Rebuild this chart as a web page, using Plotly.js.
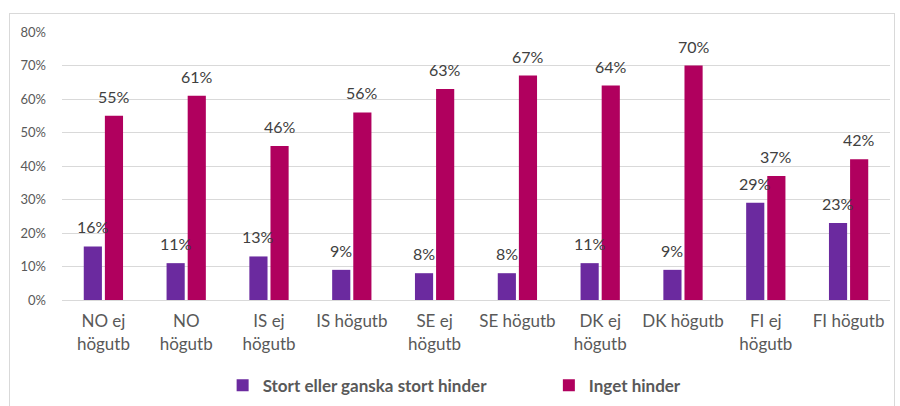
<!DOCTYPE html>
<html><head><meta charset="utf-8">
<script src="https://cdn.plot.ly/plotly-3.0.1.min.js"></script>
<style>
html,body{margin:0;padding:0;background:#fff;overflow:hidden;width:900px;height:406px;}
#wrap{position:absolute;left:9px;top:13px;width:884px;height:400px;border:1px solid #d9d9d9;}
#chart{width:884px;height:400px;}
</style></head>
<body><div id="wrap"><div id="chart"></div></div>
<script>
const categories = ["NO ej<br>högutb","NO<br>högutb","IS ej<br>högutb","IS högutb","SE ej<br>högutb","SE högutb","DK ej<br>högutb","DK högutb","FI ej<br>högutb","FI högutb"];
const seriesNames = ["Stort eller ganska stort hinder","Inget hinder"];
const stortHinder = [16,11,13,9,8,8,11,9,29,23];
const ingetHinder = [55,61,46,56,63,67,64,70,37,42];
const colors = ["#6B2A9F","#B0005E"];

const font = "Lato, 'Open Sans', sans-serif";
function mk(name, vals, color, leg){
  return {type:'bar', name:name, x:categories, y:vals, legend:leg,
    marker:{color:color}, hoverinfo:'skip'};
}
const data=[mk(seriesNames[0],stortHinder,colors[0],'legend'), mk(seriesNames[1],ingetHinder,colors[1],'legend2')];
// data labels, placed at each bar's value through the axes
const annotations=[];
[[stortHinder,-10.6],[ingetHinder,10.6]].forEach(([vals,dx])=>{
  vals.forEach((v,i)=>annotations.push({x:categories[i],y:v,xref:'x',yref:'y',text:v+'%',showarrow:false,
    xanchor:'center',yanchor:'bottom',xshift:dx,yshift:8,font:{family:font,size:16,color:'#404040'}}));
});
const legFont={family:font,size:17,color:'#595959',weight:'bold'};
const layout={
  width:884,height:400,
  margin:{l:52,r:4,t:18,b:114},
  paper_bgcolor:'#fff',plot_bgcolor:'#fff',
  bargap:0.49,bargroupgap:0.14,
  showlegend:true,
  annotations:annotations,
  legend:{orientation:'h',x:0.194,xanchor:'left',y:-0.32,yanchor:'middle',font:legFont,itemwidth:30},
  legend2:{orientation:'h',x:0.588,xanchor:'left',y:-0.32,yanchor:'middle',font:legFont,itemwidth:30},
  xaxis:{type:'category',tickfont:{family:font,size:17,color:'#595959'},showline:true,linecolor:'#d9d9d9',ticks:'',fixedrange:true,ticklabelstandoff:6},
  yaxis:{range:[0,80],dtick:10,ticksuffix:'%',showgrid:true,gridcolor:'#d9d9d9',zeroline:false,
    tickfont:{family:font,size:13,color:'#595959'},ticklabelstandoff:15,fixedrange:true},
  font:{family:font}
};
Plotly.newPlot('chart',data,layout,{displayModeBar:false,staticPlot:true});
</script></body></html>
